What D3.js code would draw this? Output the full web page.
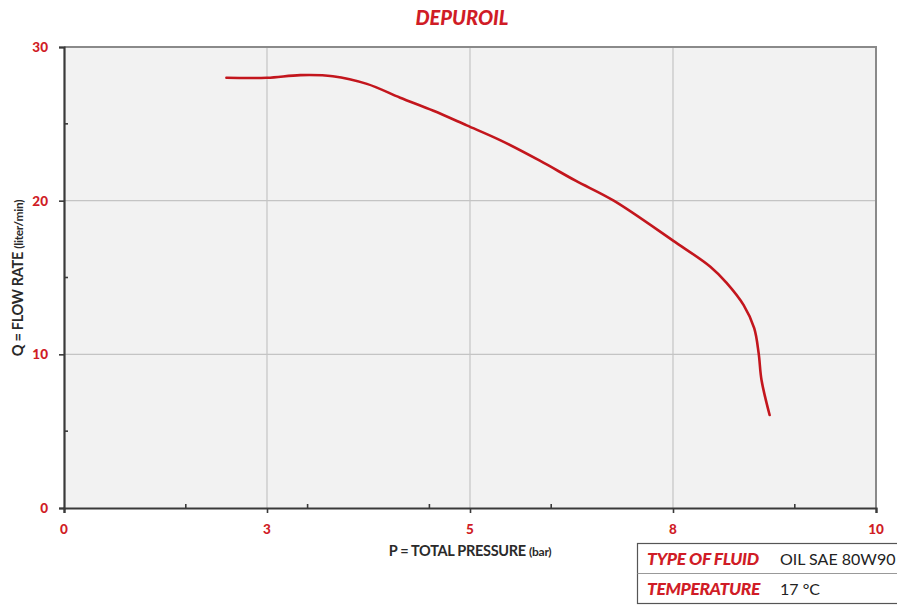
<!DOCTYPE html>
<html>
<head>
<meta charset="utf-8">
<script src="https://cdn.jsdelivr.net/npm/d3@7"></script>
<style>
  body { margin: 0; background: #fff; }
  svg { display: block; font-family: "Lato", "Open Sans", sans-serif; }
</style>
</head>
<body>
<div id="chart"></div>
<script>
'use strict';

// curve: pressure (bar) vs flow rate (liter/min)
var pressure = [2.0, 2.5, 2.91, 3.31, 3.73, 4.14, 4.55, 4.96, 5.37, 5.86, 6.3, 6.77, 7.5, 7.96, 8.16, 8.37, 8.5, 8.555, 8.59, 8.69];
var flow     = [28.0, 28.0, 28.17, 28.1, 27.6, 26.7, 25.85, 24.9, 23.94, 22.6, 21.3, 20.0, 17.4, 15.7, 14.65, 13.2, 11.7, 10.06, 8.33, 6.05];

var xTicks = [0, 2.5, 5, 7.5, 10];
var xTickLabels = ['0', '3', '5', '8', '10'];
var xMinor = [1.5, 3, 4.5, 6, 9];
var yTicks = [0, 10, 20, 30];
var yMinor = [5, 15, 25];

var fluidRows = [
  ['TYPE OF FLUID', 'OIL SAE 80W90'],
  ['TEMPERATURE', '17 °C']
];

var red = '#d01c26';
var width = 897, height = 605;

var svg = d3.select('#chart').append('svg')
    .attr('width', width)
    .attr('height', height);

var x = d3.scaleLinear().domain([0, 10]).range([64, 876]);
var y = d3.scaleLinear().domain([0, 30]).range([508, 47]);

// plot background
svg.append('rect')
    .attr('x', x(0)).attr('y', y(30))
    .attr('width', x(10) - x(0))
    .attr('height', y(0) - y(30))
    .attr('fill', '#f2f2f2');

// grid
svg.append('g').selectAll('line')
    .data(xTicks.slice(1, -1))
    .enter().append('line')
    .attr('x1', function(d) { return x(d); })
    .attr('x2', function(d) { return x(d); })
    .attr('y1', y(30)).attr('y2', y(0))
    .attr('stroke', '#c4c4c4').attr('stroke-width', 1.2);

svg.append('g').selectAll('line')
    .data(yTicks.slice(1, -1))
    .enter().append('line')
    .attr('y1', function(d) { return y(d); })
    .attr('y2', function(d) { return y(d); })
    .attr('x1', x(0)).attr('x2', x(10))
    .attr('stroke', '#c4c4c4').attr('stroke-width', 1.2);

// top / right frame
svg.append('path')
    .attr('d', 'M' + x(0) + ',' + y(30) + 'H' + x(10) + 'V' + y(0))
    .attr('fill', 'none')
    .attr('stroke', '#8a8a8a')
    .attr('stroke-width', 2);

// axes
var xAxis = svg.append('g')
    .attr('transform', 'translate(0,' + y(0) + ')')
    .call(d3.axisBottom(x).tickValues(xTicks).tickSize(5).tickFormat(''));
var yAxis = svg.append('g')
    .attr('transform', 'translate(' + x(0) + ',0)')
    .call(d3.axisLeft(y).tickValues(yTicks).tickSize(5).tickFormat(''));

[xAxis, yAxis].forEach(function(a) {
  a.select('.domain').attr('stroke', '#3a3a3a').attr('stroke-width', 2.2);
  a.selectAll('.tick line').attr('stroke', '#3a3a3a').attr('stroke-width', 1.6);
});

// minor ticks (inside)
svg.append('g').selectAll('line')
    .data(xMinor)
    .enter().append('line')
    .attr('x1', function(d) { return x(d); })
    .attr('x2', function(d) { return x(d); })
    .attr('y1', y(0)).attr('y2', y(0) - 4)
    .attr('stroke', '#3a3a3a').attr('stroke-width', 1.6);

svg.append('g').selectAll('line')
    .data(yMinor)
    .enter().append('line')
    .attr('y1', function(d) { return y(d); })
    .attr('y2', function(d) { return y(d); })
    .attr('x1', x(0)).attr('x2', x(0) + 4)
    .attr('stroke', '#3a3a3a').attr('stroke-width', 1.6);

// tick labels
svg.append('g').selectAll('text')
    .data(xTicks)
    .enter().append('text')
    .attr('x', function(d) { return x(d); })
    .attr('y', 534)
    .attr('text-anchor', 'middle')
    .attr('fill', red)
    .attr('font-size', 13.5)
    .attr('font-weight', 900)
    .text(function(d, i) { return xTickLabels[i]; });

svg.append('g').selectAll('text')
    .data(yTicks)
    .enter().append('text')
    .attr('x', 48)
    .attr('y', function(d) { return y(d) + 5; })
    .attr('text-anchor', 'end')
    .attr('fill', red)
    .attr('font-size', 13.5)
    .attr('font-weight', 900)
    .text(function(d) { return d; });

// title
svg.append('text')
    .attr('x', 462).attr('y', 25)
    .attr('text-anchor', 'middle')
    .attr('fill', red)
    .attr('font-size', 20)
    .attr('font-weight', 900)
    .attr('font-style', 'italic')
    .text('DEPUROIL');

// axis titles
var xt = svg.append('text')
    .attr('x', 470).attr('y', 556)
    .attr('text-anchor', 'middle')
    .attr('fill', '#2a2a2a')
    .attr('font-size', 14.5)
    .attr('font-weight', 'bold')
    .attr('letter-spacing', -0.3);
xt.append('tspan').text('P = TOTAL PRESSURE ');
xt.append('tspan').attr('font-size', 12).text('(bar)');

var yt = svg.append('text')
    .attr('transform', 'translate(23,278) rotate(-90)')
    .attr('text-anchor', 'middle')
    .attr('fill', '#2a2a2a')
    .attr('font-size', 14.5)
    .attr('font-weight', 'bold')
    .attr('letter-spacing', -0.3);
yt.append('tspan').text('Q = FLOW RATE ');
yt.append('tspan').attr('font-size', 12).text('(liter/min)');

// curve
var pts = pressure.map(function(p, i) { return [p, flow[i]]; });
var line = d3.line()
    .x(function(d) { return x(d[0]); })
    .y(function(d) { return y(d[1]); })
    .curve(d3.curveCatmullRom.alpha(0.5));

svg.append('path')
    .datum(pts)
    .attr('d', line)
    .attr('fill', 'none')
    .attr('stroke', '#c3161d')
    .attr('stroke-width', 2.6)
    .attr('stroke-linecap', 'round');

// fluid info table
var tb = svg.append('g');
tb.append('rect')
    .attr('x', 637.5).attr('y', 543.5)
    .attr('width', 270).attr('height', 60)
    .attr('fill', '#fff')
    .attr('stroke', '#555').attr('stroke-width', 1.2);
tb.append('line')
    .attr('x1', 637.5).attr('x2', 897)
    .attr('y1', 573.5).attr('y2', 573.5)
    .attr('stroke', '#999').attr('stroke-width', 1);

var rows = tb.selectAll('g.row')
    .data(fluidRows)
    .enter().append('g')
    .attr('class', 'row')
    .attr('transform', function(d, i) { return 'translate(647,' + (565 + i * 30) + ')'; });

rows.append('text')
    .attr('fill', red)
    .attr('font-size', 17.5)
    .attr('font-weight', 900)
    .attr('font-style', 'italic')
    .attr('letter-spacing', -0.4)
    .text(function(d) { return d[0]; });

rows.append('text')
    .attr('x', 133)
    .attr('fill', '#222')
    .attr('font-size', 16)
    .text(function(d) { return d[1]; });
</script>
</body>
</html>
